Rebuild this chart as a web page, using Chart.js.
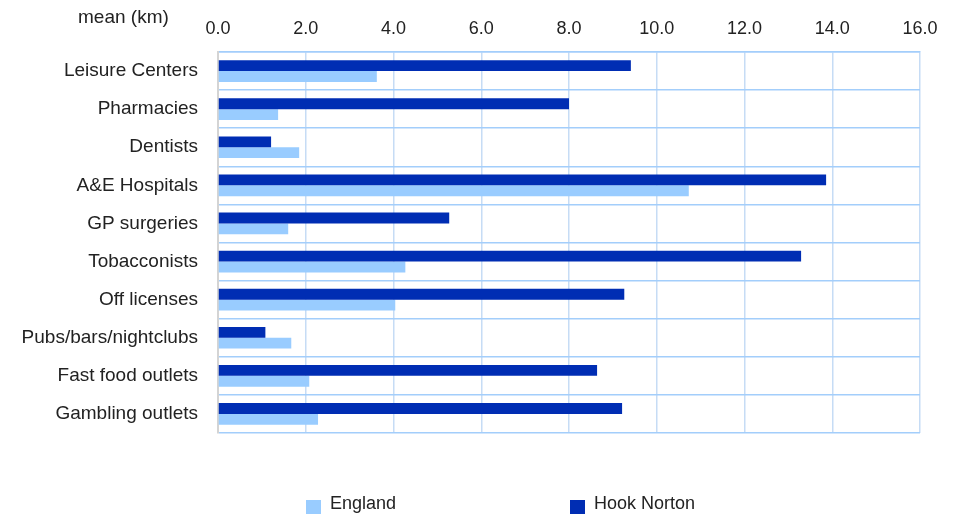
<!DOCTYPE html>
<html>
<head>
<meta charset="utf-8">
<script src="https://cdn.jsdelivr.net/npm/chart.js@4.4.1/dist/chart.umd.min.js"></script>
<style>
  body { margin: 0; background: #fff; font-family: "Liberation Sans", Arial, sans-serif; }
  #wrap { position: relative; width: 957px; height: 514px; }
  #unitLabel { position: absolute; left: 78px; top: 6px; font-size: 19px; color: #222; }
  .legendItem { position: absolute; top: 493px; font-size: 18px; color: #222; line-height: 20px; }
  .legendItem span { display: inline-block; width: 15px; height: 15px; margin-right: 9px; vertical-align: -6px; }
</style>
</head>
<body>
<div id="wrap">
  <canvas id="distChart" width="957" height="514"></canvas>
  <div id="unitLabel">mean (km)</div>
  <div class="legendItem" style="left:306px"><span style="background:#99ccff"></span>England</div>
  <div class="legendItem" style="left:570px"><span style="background:#002db3"></span>Hook Norton</div>
</div>
<script>
// -------------------------
// Data
// -------------------------
const categories = [
  "Leisure Centers", "Pharmacies", "Dentists", "A&E Hospitals", "GP surgeries",
  "Tobacconists", "Off licenses", "Pubs/bars/nightclubs", "Fast food outlets", "Gambling outlets"
];
const hookNorton = [9.41, 8.0, 1.21, 13.86, 5.27, 13.29, 9.26, 1.08, 8.64, 9.21];
const england = [3.62, 1.37, 1.85, 10.73, 1.60, 4.27, 4.04, 1.67, 2.08, 2.28];
const xTicks = [0, 2, 4, 6, 8, 10, 12, 14, 16];

// -------------------------
// Chart
// -------------------------
const ctx = document.getElementById("distChart").getContext("2d");
new Chart(ctx, {
  type: 'bar',
  data: {
    labels: categories,
    datasets: [
      { label: 'Hook Norton', data: hookNorton, backgroundColor: '#002db3' },
      { label: 'England', data: england, backgroundColor: '#99ccff' }
    ]
  },
  options: {
    indexAxis: 'y',
    responsive: false,
    animation: false,
    categoryPercentage: 0.57,
    barPercentage: 1.0,
    layout: { padding: { left: 0, right: 37, top: 0, bottom: 81 } },
    plugins: {
      legend: { display: false },
      tooltip: { enabled: false }
    },
    scales: {
      x: {
        position: 'top',
        min: 0,
        max: 16,
        afterBuildTicks: scale => {
          scale.ticks = xTicks.map(v => ({ value: v }));
        },
        afterFit: scale => { scale.height = 52; },
        ticks: {
          color: '#222',
          padding: 12,
          font: { family: '"Liberation Sans", Arial', size: 18 },
          callback: v => v.toFixed(1)
        },
        grid: { color: '#c6dcf5', lineWidth: 1.5, drawTicks: false },
        border: { color: '#a3cefb', width: 1.5 }
      },
      y: {
        afterFit: scale => { scale.width = 218; },
        ticks: {
          color: '#222',
          padding: 20,
          font: { family: '"Liberation Sans", Arial', size: 19 }
        },
        grid: { color: '#a3cefb', lineWidth: 1.5, drawTicks: false },
        border: { color: '#d4d4d4', width: 2 }
      }
    }
  }
});
</script>
</body>
</html>
